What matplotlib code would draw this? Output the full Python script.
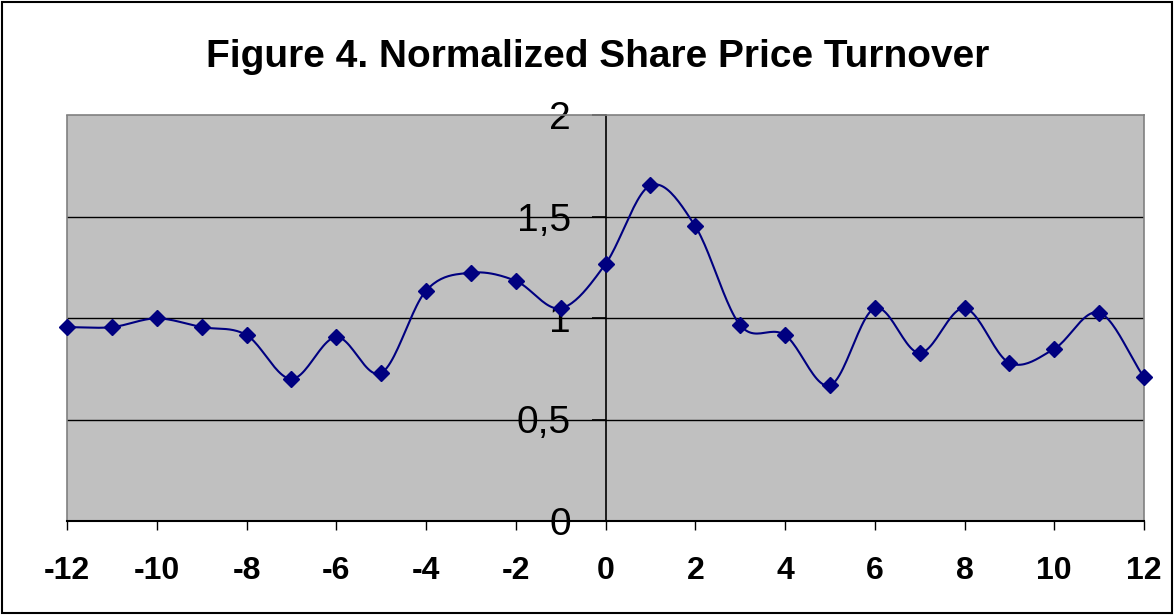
import numpy as np
import matplotlib.pyplot as plt
from matplotlib.patches import Rectangle
from matplotlib.ticker import FuncFormatter

# event-day window and turnover readings
days = np.arange(-12, 13)
turnover = [0.955, 0.955, 0.998, 0.955, 0.916, 0.700, 0.906, 0.729, 1.134, 1.223,
            1.183, 1.048, 1.266, 1.653, 1.452, 0.965, 0.916, 0.668, 1.048, 0.828,
            1.048, 0.779, 0.848, 1.026, 0.708]
x_ticks = np.arange(-12, 13, 2)
y_ticks = [0, 0.5, 1, 1.5, 2]


def smooth_curve(xs, ys, n=24):
    # Catmull-Rom style smoothing, like the "smoothed line" option of a spreadsheet
    p = np.column_stack([xs, ys]).astype(float)
    m = np.zeros_like(p)
    m[1:-1] = (p[2:] - p[:-2]) / 2
    m[0] = p[1] - p[0]
    m[-1] = p[-1] - p[-2]
    t = np.linspace(0, 1, n, endpoint=False)[:, None]
    h00 = 2 * t**3 - 3 * t**2 + 1
    h10 = t**3 - 2 * t**2 + t
    h01 = -2 * t**3 + 3 * t**2
    h11 = t**3 - t**2
    pts = []
    for i in range(len(p) - 1):
        pts.append(h00 * p[i] + h10 * m[i] + h01 * p[i + 1] + h11 * m[i + 1])
    pts.append(p[-1:])
    pts = np.vstack(pts)
    return pts[:, 0], pts[:, 1]


plt.rcParams['font.family'] = ['Liberation Sans', 'DejaVu Sans']
plt.rcParams['axes.unicode_minus'] = False

fig = plt.figure(figsize=(11.76, 6.15), dpi=100)
ax = fig.add_axes([67 / 1176, 1 - 521 / 615, (1144 - 67) / 1176, (521 - 115) / 615])
ax.set_facecolor('#c0c0c0')

sx, sy = smooth_curve(days, turnover)
ax.plot(sx, sy, color='#000080', lw=1.5, zorder=3)
ax.plot(days, turnover, ls='none', marker='D', ms=8.5, color='#000080', zorder=4, clip_on=False)

ax.set_xlim(-12, 12)
ax.set_ylim(0, 2)
ax.set_xticks(x_ticks)
ax.set_yticks(y_ticks)
ax.yaxis.set_major_formatter(FuncFormatter(lambda v, _: f'{v:g}'.replace('.', ',')))

for v in y_ticks[1:-1]:
    ax.axhline(v, color='black', lw=1, zorder=1)

ax.spines['left'].set_position(('data', 0))
ax.spines['left'].set_color('black')
ax.spines['left'].set_linewidth(1.2)
ax.spines['bottom'].set_color('black')
ax.spines['bottom'].set_linewidth(1.5)
for s in ['top', 'right']:
    ax.spines[s].set_color('#808080')
    ax.spines[s].set_linewidth(1.2)
ax.add_patch(Rectangle((0, 0), 0, 1, transform=ax.transAxes, fill=False,
                       edgecolor='#808080', lw=1.2, clip_on=False))

ax.tick_params(axis='x', direction='out', length=6.5, width=1, pad=19,
               labelsize=23)
ax.tick_params(axis='y', direction='out', length=10, width=1.2, pad=15,
               labelsize=28)
for lab in ax.get_xticklabels():
    lab.set_fontweight('bold')

fig.text(598 / 1176, 1 - 67 / 615, 'Figure 4. Normalized Share Price Turnover', ha='center',
         va='baseline', fontsize=28, fontweight='bold')

fig.patches.append(Rectangle((0.002, 0.003), 0.995, 0.994, transform=fig.transFigure,
                             fill=False, edgecolor='black', lw=1.5))

fig.savefig('out.png', dpi=100)
